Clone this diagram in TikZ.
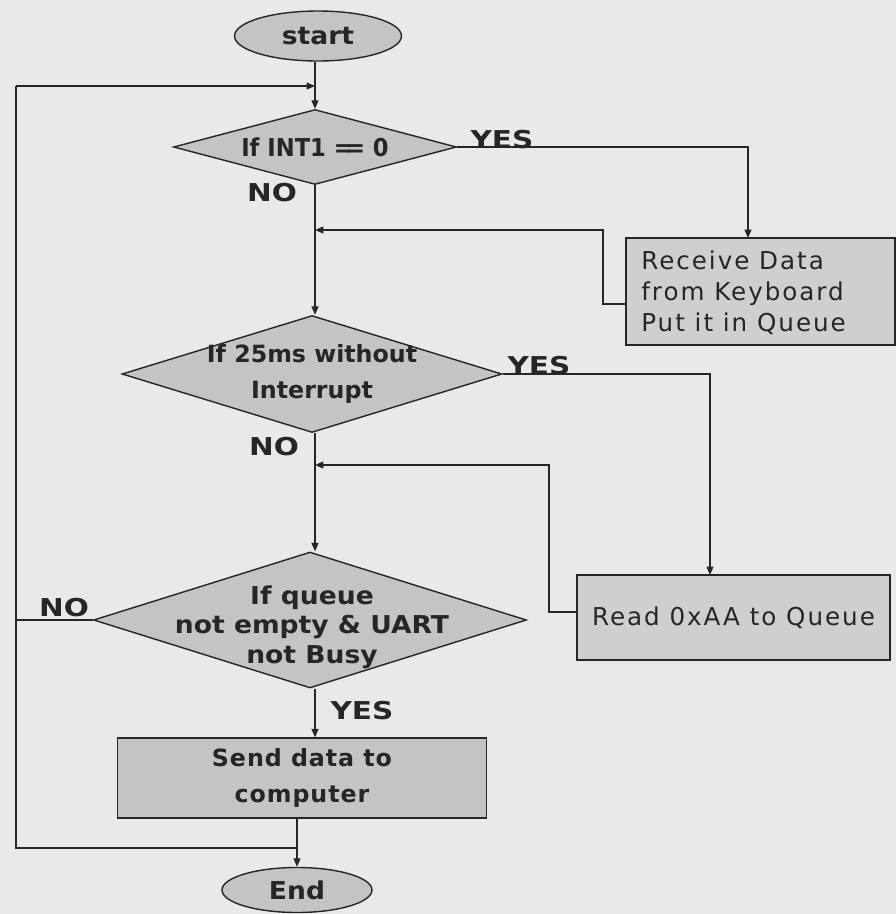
\documentclass[tikz,border=0pt]{standalone}
\usepackage{fontspec}
\setmainfont{DejaVu Sans}
\usetikzlibrary{shapes.geometric,arrows.meta}
\definecolor{bg}{HTML}{E9E9E9}
\definecolor{shapec}{HTML}{C4C4C4}
\definecolor{boxc}{HTML}{CFCFCF}
\definecolor{ink}{HTML}{262626}
\begin{document}
\begin{tikzpicture}[x=0.02cm,y=-0.02cm,
  term/.style={ellipse, draw=ink, fill=shapec, line width=0.8pt, inner sep=0pt,
    font=\fontsize{14}{16}\selectfont\bfseries\addfontfeature{FakeStretch=1.08}, text=ink},
  dia/.style={diamond, draw=ink, fill=shapec, line width=0.8pt, inner sep=0pt},
  proc/.style={rectangle, draw=ink, fill=boxc, line width=0.8pt, inner sep=0pt},
  btxt/.style={font=\fontsize{13.5}{19}\selectfont\bfseries, text=ink, align=center, inner sep=0pt},
  rtxt/.style={font=\fontsize{14}{17.6}\selectfont\addfontfeature{LetterSpace=8}, text=ink, inner sep=0pt},
  lbl/.style={font=\fontsize{14}{16}\selectfont\bfseries\addfontfeature{FakeStretch=1.2}, text=ink, inner sep=0pt},
  conn/.style={draw=ink, line width=0.8pt},
  arr/.style={conn, -{Triangle[length=0.17cm,width=0.14cm]}}]
\fill[bg] (0,0) rectangle (896,914);
\useasboundingbox (0,0) rectangle (896,914);

% nodes
\node[term, minimum width=3.34cm, minimum height=1.0cm] (start) at (318,36) {start};
\node[dia, minimum width=5.66cm, minimum height=1.5cm] (d1) at (315,147) {};
\node[btxt, font=\fontsize{14}{16}\selectfont\bfseries\addfontfeature{FakeStretch=0.92}] (d1t) at (315,147) {If INT1 \mbox{=\kern-0.27em=} 0};
\node[proc, minimum width=5.38cm, minimum height=2.14cm] (recv) at (760.5,291.5) {};
\node[rtxt, align=left, anchor=west] (recvt) at (641,293) {Receive Data\\from Keyboard\\Put it in Queue};
\node[dia, minimum width=7.6cm, minimum height=2.34cm] (d2) at (312,374) {};
\node[btxt, font=\fontsize{13.5}{20}\selectfont\bfseries] (d2t) at (312,374) {If 25ms without\\Interrupt};
\node[proc, minimum width=6.26cm, minimum height=1.7cm] (read) at (733.5,617.5) {};
\node[rtxt] (readt) at (read) {Read 0xAA to Queue};
\node[dia, minimum width=8.66cm, minimum height=2.72cm] (d3) at (310,620) {};
\node[btxt, font=\fontsize{14}{16.8}\selectfont\bfseries\addfontfeature{FakeStretch=1.08}] (d3t) at (312,627) {If queue\\not empty \& UART\\not Busy};
\node[proc, fill=shapec, minimum width=7.38cm, minimum height=1.6cm] (send) at (302,778) {};
\node[btxt, font=\fontsize{13.5}{20}\selectfont\bfseries\addfontfeature{LetterSpace=4}] (sendt) at (send) {Send data to\\computer};
\node[term, minimum width=3.0cm, minimum height=0.9cm] (end) at (297,890) {End};

% labels
\node[lbl] (yes1) at (502,140) {YES};
\node[lbl] (no1) at (272,193) {NO};
\node[lbl] (yes2) at (539,366) {YES};
\node[lbl] (no2) at (274,447) {NO};
\node[lbl] (no3) at (64,608) {NO};
\node[lbl] (yes3) at (362,711) {YES};

% helper coordinates
\coordinate (m1) at (315,86);
\coordinate (m2) at (315,230);
\coordinate (m3) at (315,465);
\coordinate (rin) at (748,238);
\coordinate (rout) at (626,304);
\coordinate (ain) at (710,575);
\coordinate (aout) at (577,612);
\coordinate (jn) at (297,848);
\coordinate (lb) at (16,848);
\coordinate (lt) at (16,86);

% main flow
\draw[arr] (start.south -| d1.north) -- (d1.north);
\draw[arr] (d1.south) -- (d1.south |- d2.north);
\draw[arr] (d1.south |- d2.south) -- (d1.south |- d3.north);
\draw[arr] (d1.south |- d3.south) -- (d1.south |- send.north);
\draw[arr] (send.south -| end.north) -- (end.north);

% branches
\draw[arr] (d1.east) -| (rin);
\draw[arr] (rout) -- ++(-23,0) |- (m2);
\draw[arr] (d2.east) -| (ain);
\draw[arr] (aout) -- ++(-28,0) |- (m3);
\draw[conn] (d3.west) -- (d3.west -| lb);
\draw[conn] (jn) -- (lb) -- (lt);
\draw[arr] (lt) -- (m1);
\end{tikzpicture}
\end{document}
